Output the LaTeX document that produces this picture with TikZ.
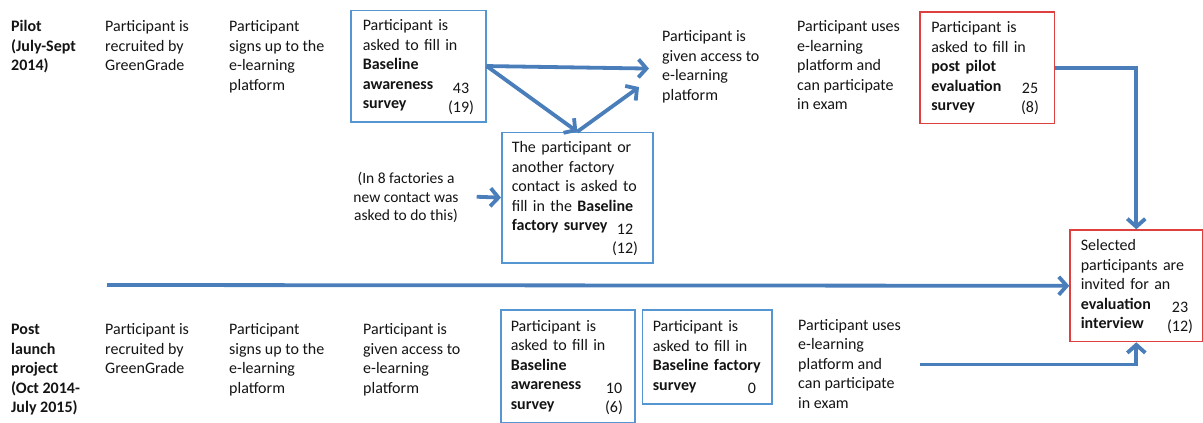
\documentclass[tikz,border=0pt]{standalone}
\usepackage{fontspec}
\setmainfont{Carlito}
\usetikzlibrary{arrows.meta}
\definecolor{flowblue}{RGB}{74,126,187}
\definecolor{boxblue}{RGB}{85,150,210}
\definecolor{boxred}{RGB}{222,64,64}
\definecolor{ink}{RGB}{20,20,20}

\begin{document}
\begin{tikzpicture}[x=1pt,y=-1pt,
  body/.style={font=\fontsize{16pt}{19.5pt}\selectfont, text=ink, inner sep=0pt},
  txt/.style={body, align=left, anchor=north west},
  num/.style={body, align=center, anchor=north},
  framed/.style={body, align=left, anchor=north west, line width=1.6pt, inner ysep=0pt},
  bluebox/.style={framed, draw=boxblue},
  redbox/.style={framed, draw=boxred},
  flow/.style={draw=flowblue, line width=3.8pt, -{Straight Barb[length=8pt,width=18pt]}},
]
\useasboundingbox (0,0) rectangle (1203,423);

% ---------------- pilot row ----------------
\node[txt, font=\fontsize{16pt}{19.5pt}\selectfont\bfseries] (pilot) at (11,18)
  {\strut Pilot\\(July-Sept\\2014)};
\node[txt] (pilot-recruit) at (105,18)
  {\strut Participant is\\recruited by\\GreenGrade};
\node[txt] (pilot-signup) at (229,18)
  {\strut Participant\\signs up to the\\e-learning\\platform};
\node[bluebox, text width=111pt, inner xsep=12pt, minimum height=111.5pt] (pilot-aware) at (350,9.5)
  {\strut Participant is\\asked to fill in\\\textbf{Baseline}\\\textbf{awareness}\\\textbf{survey}\strut};
\node[num] (n-pilot-aware) at (461,79.6) {\strut 43\\(19)};

\node[bluebox, text width=131pt, inner xsep=10pt, minimum height=130.3pt] (pilot-factory) at (501,131.7)
  {\strut The participant or\\another factory\\contact is asked to\\fill in the \textbf{Baseline}\\\textbf{factory survey}\\\strut};
\node[num] (n-pilot-factory) at (625,220.4) {\strut 12\\(12)};

\node[body, align=center, anchor=north, font=\fontsize{15.5pt}{18.5pt}\selectfont] (note) at (406,170.5)
  {\strut(In 8 factories a\\new contact was\\asked to do this)};

\node[txt] (pilot-access) at (662,28)
  {\strut Participant is\\given access to\\e-learning\\platform};
\node[txt] (pilot-uses) at (797,18)
  {\strut Participant uses\\e-learning\\platform and\\can participate\\in exam};
\node[redbox, text width=111.5pt, inner xsep=11.5pt, minimum height=111.7pt] (pilot-eval) at (919,11)
  {\strut Participant is\\asked to fill in\\\textbf{post pilot}\\\textbf{evaluation}\\\textbf{survey}\strut};
\node[num] (n-pilot-eval) at (1030,79.6) {\strut 25\\(8)};

% ---------------- interview ----------------
\node[redbox, text width=111pt, inner xsep=10.7pt, minimum height=111.4pt] (interview) at (1069.3,229.3)
  {\strut Selected\\participants are\\invited for an\\\textbf{evaluation}\\\textbf{interview}\strut};
\node[num] (n-interview) at (1180,298.6) {\strut 23\\(12)};

% ---------------- post launch row ----------------
\node[txt, font=\fontsize{16pt}{19.5pt}\selectfont\bfseries] (post) at (11,320.7)
  {\strut Post\\launch\\project\\(Oct 2014-\\July 2015)};
\node[txt] (post-recruit) at (105,320.7)
  {\strut Participant is\\recruited by\\GreenGrade};
\node[txt] (post-signup) at (229,320.7)
  {\strut Participant\\signs up to the\\e-learning\\platform};
\node[txt] (post-access) at (363,320.7)
  {\strut Participant is\\given access to\\e-learning\\platform};
\node[bluebox, text width=114.4pt, inner xsep=9.6pt, minimum height=112.2pt] (post-aware) at (500.4,309.3)
  {\strut Participant is\\asked to fill in\\\textbf{Baseline}\\\textbf{awareness}\\\textbf{survey}\strut};
\node[num] (n-post-aware) at (614,379.6) {\strut 10\\(6)};
\node[bluebox, text width=108.9pt, inner xsep=10.4pt, minimum height=94.3pt] (post-factory) at (641.6,309)
  {\strut Participant is\\asked to fill in\\\textbf{Baseline factory}\\\textbf{survey}\strut};
\node[num] (n-post-factory) at (752,379.4) {\strut 0};
\node[txt] (post-uses) at (798,316.4)
  {\strut Participant uses\\e-learning\\platform and\\can participate\\in exam};

% ---------------- connectors ----------------
\coordinate (timeline) at (107,285);
\coordinate (post-out) at (920,364.5);

\draw[flow] (pilot-aware.east) -- ([shift={(-13,3)}]pilot-access.west);
\draw[flow] (pilot-aware.east) -- (pilot-factory.north);
\draw[flow] (pilot-factory.north) -- ([shift={(-23,21.5)}]pilot-access.west);
\draw[flow] ([xshift=18pt]note.east) -- (pilot-factory.west);
\draw[flow] (pilot-eval.east) -| (interview.north);
\draw[flow] (timeline) -- (interview.west);
\draw[flow] (post-out) -| (interview.south);
\end{tikzpicture}
\end{document}
